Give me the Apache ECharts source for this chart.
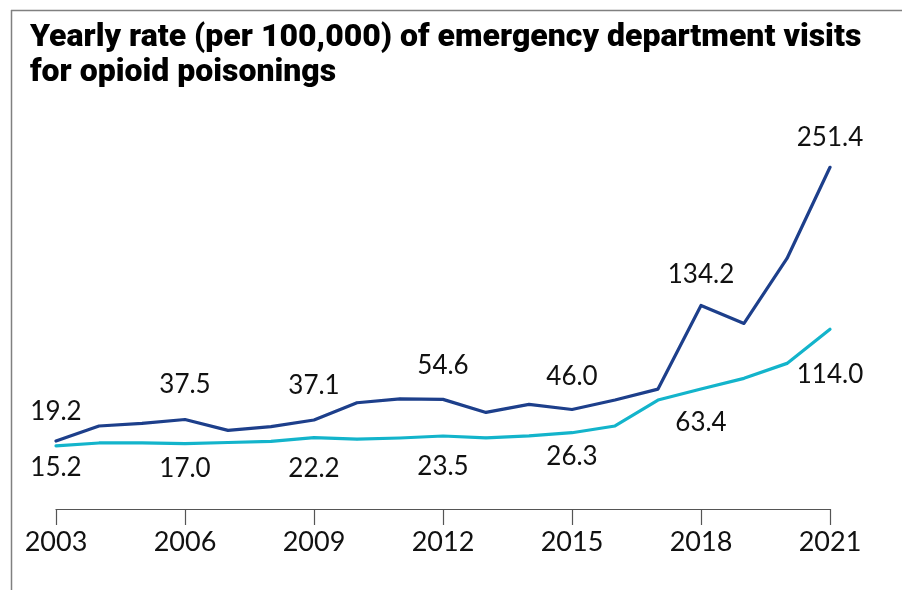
<!DOCTYPE html>
<html>
<head>
<meta charset="utf-8">
<script src="https://cdn.jsdelivr.net/npm/echarts@6/dist/echarts.min.js"></script>
<style>
  html, body { margin: 0; padding: 0; background: #ffffff; }
  #chart { width: 902px; height: 590px; }
</style>
</head>
<body>
<div id="chart"></div>
<script>
// Yearly emergency department visit rates (per 100,000) for opioid poisonings
const years = ['2003','2004','2005','2006','2007','2008','2009','2010','2011','2012',
               '2013','2014','2015','2016','2017','2018','2019','2020','2021'];

const seriesUpper = [19.2, 32.0, 34.2, 37.5, 28.3, 31.4, 37.1, 51.7, 55.0, 54.6,
                     43.5, 50.3, 46.0, 54.0, 63.3, 134.2, 119.0, 174.1, 251.4];

const seriesLower = [15.2, 17.6, 17.6, 17.0, 18.0, 19.0, 22.2, 20.8, 21.8, 23.5,
                     22.0, 23.6, 26.3, 32.0, 54.0, 63.4, 72.4, 85.1, 114.0];

// Years whose values are printed next to the line
const labelledYears = ['2003','2006','2009','2012','2015','2018','2021'];

// Label distances from the point (pixels)
const upperLabelGap = [15, 21, 20, 20, 19, 17, 16];
const lowerLabelGap = [8, 11, 17, 17, 10, 20, 31];

const DARK = '#1d3f8b';
const CYAN = '#13b4cb';
const labelFont = 'Lato, "Liberation Sans", sans-serif';

function buildData(values, gaps, pos) {
  return values.map((v, i) => {
    const k = labelledYears.indexOf(years[i]);
    if (k < 0) return { value: v, label: { show: false } };
    return {
      value: v,
      label: {
        show: true,
        position: pos,
        distance: gaps[k],
        formatter: () => v.toFixed(1)
      }
    };
  });
}

const chart = echarts.init(document.getElementById('chart'), null, { renderer: 'canvas' });

chart.setOption({
  animation: false,
  backgroundColor: '#ffffff',
  title: {
    text: 'Yearly rate (per 100,000) of emergency department visits\nfor opioid poisonings',
    left: 25,
    top: 15,
    textStyle: {
      fontFamily: 'Roboto, "Noto Sans", sans-serif',
      fontWeight: 900,
      fontSize: 32,
      lineHeight: 35,
      color: '#000000'
    }
  },
  graphic: [
    { type: 'line', shape: { x1: 11, y1: 10.5, x2: 902, y2: 10.5 },
      style: { stroke: '#808080', lineWidth: 1.5 } },
    { type: 'line', shape: { x1: 11.5, y1: 10, x2: 11.5, y2: 590 },
      style: { stroke: '#808080', lineWidth: 1.5 } }
  ],
  grid: { left: 56, right: 72, top: 110, bottom: 81 },
  xAxis: {
    type: 'category',
    data: years,
    boundaryGap: false,
    axisLine: { show: true, onZero: false, lineStyle: { color: '#555555', width: 1.2 } },
    axisTick: { show: true, interval: 2, length: 16, lineStyle: { color: '#555555', width: 1.2 } },
    axisLabel: {
      interval: 2,
      margin: 20,
      fontFamily: labelFont,
      fontSize: 27,
      color: '#111111'
    },
    splitLine: { show: false }
  },
  yAxis: {
    type: 'value',
    min: -38.4,
    max: 300,
    show: false,
    splitLine: { show: false }
  },
  series: [
    {
      name: 'upper',
      type: 'line',
      data: buildData(seriesUpper, upperLabelGap, 'top'),
      symbol: 'circle',
      symbolSize: 2,
      showSymbol: true,
      showAllSymbol: true,
      lineStyle: { color: DARK, width: 3.2, join: 'round', cap: 'round' },
      itemStyle: { color: DARK },
      label: { show: false, fontFamily: labelFont, fontSize: 26, color: '#111111' },
      z: 3
    },
    {
      name: 'lower',
      type: 'line',
      data: buildData(seriesLower, lowerLabelGap, 'bottom'),
      symbol: 'circle',
      symbolSize: 2,
      showSymbol: true,
      showAllSymbol: true,
      lineStyle: { color: CYAN, width: 3.2, join: 'round', cap: 'round' },
      itemStyle: { color: CYAN },
      label: { show: false, fontFamily: labelFont, fontSize: 26, color: '#111111' },
      z: 2
    }
  ]
});
</script>
</body>
</html>
